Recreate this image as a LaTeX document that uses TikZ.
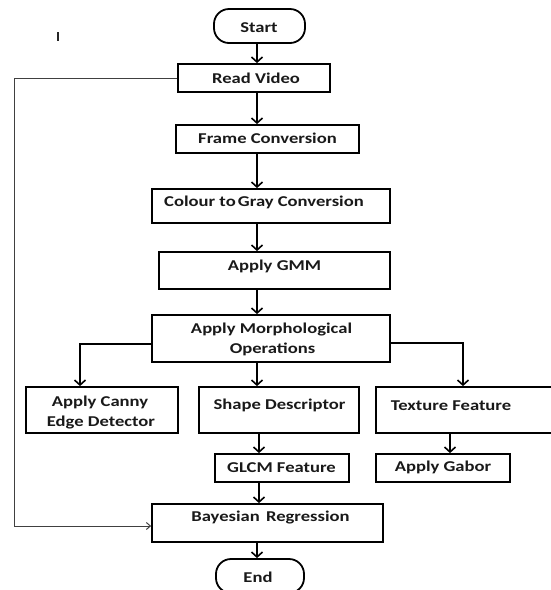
\documentclass[tikz,border=0pt]{standalone}
\usepackage{fontspec}
\setmainfont{Carlito}[FakeStretch=1.24]
\usetikzlibrary{arrows.meta}
\tikzset{
  box/.style={draw, line width=1.8pt, inner sep=0pt, rectangle},
  term/.style={draw, line width=1.8pt, inner sep=0pt, rectangle, rounded corners=15pt},
  txt/.style={inner sep=0pt, font=\fontsize{15}{20}\selectfont\bfseries, align=center, text=black!90},
  arr/.style={line width=1.8pt, -{Straight Barb[length=5pt,width=11pt,line width=1.6pt]}},
  thinarr/.style={line width=1pt, draw=black!75, -{Straight Barb[length=4pt,width=7pt,line width=1pt]}}
}
\begin{document}
\begin{tikzpicture}[x=1pt,y=-1pt]
\useasboundingbox (0,0) rectangle (551,590);
\clip (0,0) rectangle (551,590);
\fill[white] (0,0) rectangle (551,590);
% boxes
\node[term, minimum width=91pt, minimum height=34pt] (start) at (259.5,26) {};
\node[box, minimum width=152pt, minimum height=28pt] (read) at (254,78) {};
\node[box, minimum width=183pt, minimum height=28pt] (frame) at (267.5,139) {};
\node[box, minimum width=238pt, minimum height=34pt] (colour) at (271,206) {};
\node[box, minimum width=231pt, minimum height=37pt] (gmm) at (274.5,270.5) {};
\node[box, minimum width=238pt, minimum height=47pt] (morph) at (271,338.5) {};
\node[box, minimum width=152pt, minimum height=46pt] (canny) at (102,410) {};
\node[box, minimum width=160pt, minimum height=46pt] (shape) at (279,410) {};
\node[box, minimum width=190pt, minimum height=46pt] (texture) at (471,410) {};
\node[box, minimum width=134pt, minimum height=28pt] (glcm) at (282,468) {};
\node[box, minimum width=134pt, minimum height=28pt] (gabor) at (443,468) {};
\node[box, minimum width=231pt, minimum height=38pt] (bayes) at (267.5,523) {};
\node[term, minimum width=88pt, minimum height=34pt] (end) at (260,576) {};
% texts
\node[txt] (tstart) at (259,28) {Start};
\node[txt] (tread) at (256,78) {Read Video};
\node[txt] (tframe) at (267.5,138.5) {Frame Conversion};
\node[txt] (tcolour) at (264,202.5) {Colour to\hspace{-2pt} Gray Conversion};
\node[txt] (tgmm) at (274.5,266.5) {Apply GMM};
\node[txt] (tmorph1) at (271.5,329.5) {Apply Morphological};
\node[txt] (tmorph2) at (272.5,349.5) {Operations};
\node[txt] (tcanny1) at (100,402.5) {Apply Canny};
\node[txt] (tcanny2) at (101,422.5) {Edge Detector};
\node[txt] (tshape) at (279.5,405.5) {Shape Descriptor};
\node[txt] (ttexture) at (451,405.5) {Texture Feature};
\node[txt] (tglcm) at (281.5,467.5) {GLCM Feature};
\node[txt] (tgabor) at (443,467.5) {Apply Gabor};
\node[txt] (tbayes) at (270.5,517.5) {Bayesian\hspace{2pt} Regression};
\node[txt] (tend) at (258,577.5) {End};
% stray mark
\draw[line width=2.2pt, black!85] (58,32) -- (58,41);
% spine coordinates
\coordinate (sp) at (257,0);
\coordinate (sp2) at (259,0);
\coordinate (lb) at (80,344);
\coordinate (rb) at (463,343);
\coordinate (tx) at (450,0);
\coordinate (fb) at (14,0);
% arrows
\draw[arr] (start.south -| sp) -- (read.north -| sp);
\draw[arr] (read.south -| sp) -- (frame.north -| sp);
\draw[arr] (frame.south -| sp) -- (colour.north -| sp);
\draw[arr] (colour.south -| sp) -- (gmm.north -| sp);
\draw[arr] (gmm.south -| sp) -- (morph.north -| sp);
\draw[arr] (morph.south -| sp) -- (shape.north -| sp);
\draw[arr] (morph.west |- lb) -- (lb) -- (canny.north -| lb);
\draw[arr] (morph.east |- rb) -- (rb) -- (texture.north -| rb);
\draw[arr] (shape.south -| sp2) -- (glcm.north -| sp2);
\draw[arr] (texture.south -| tx) -- (gabor.north -| tx);
\draw[arr] (glcm.south -| sp2) -- (bayes.north -| sp2);
\draw[arr] (bayes.south -| sp) -- (end.north -| sp);
% feedback
\draw[thinarr] (read.west) -- (read.west -| fb) -- (fb |- 0,526) -- (bayes.west |- 0,526);
\end{tikzpicture}
\end{document}
